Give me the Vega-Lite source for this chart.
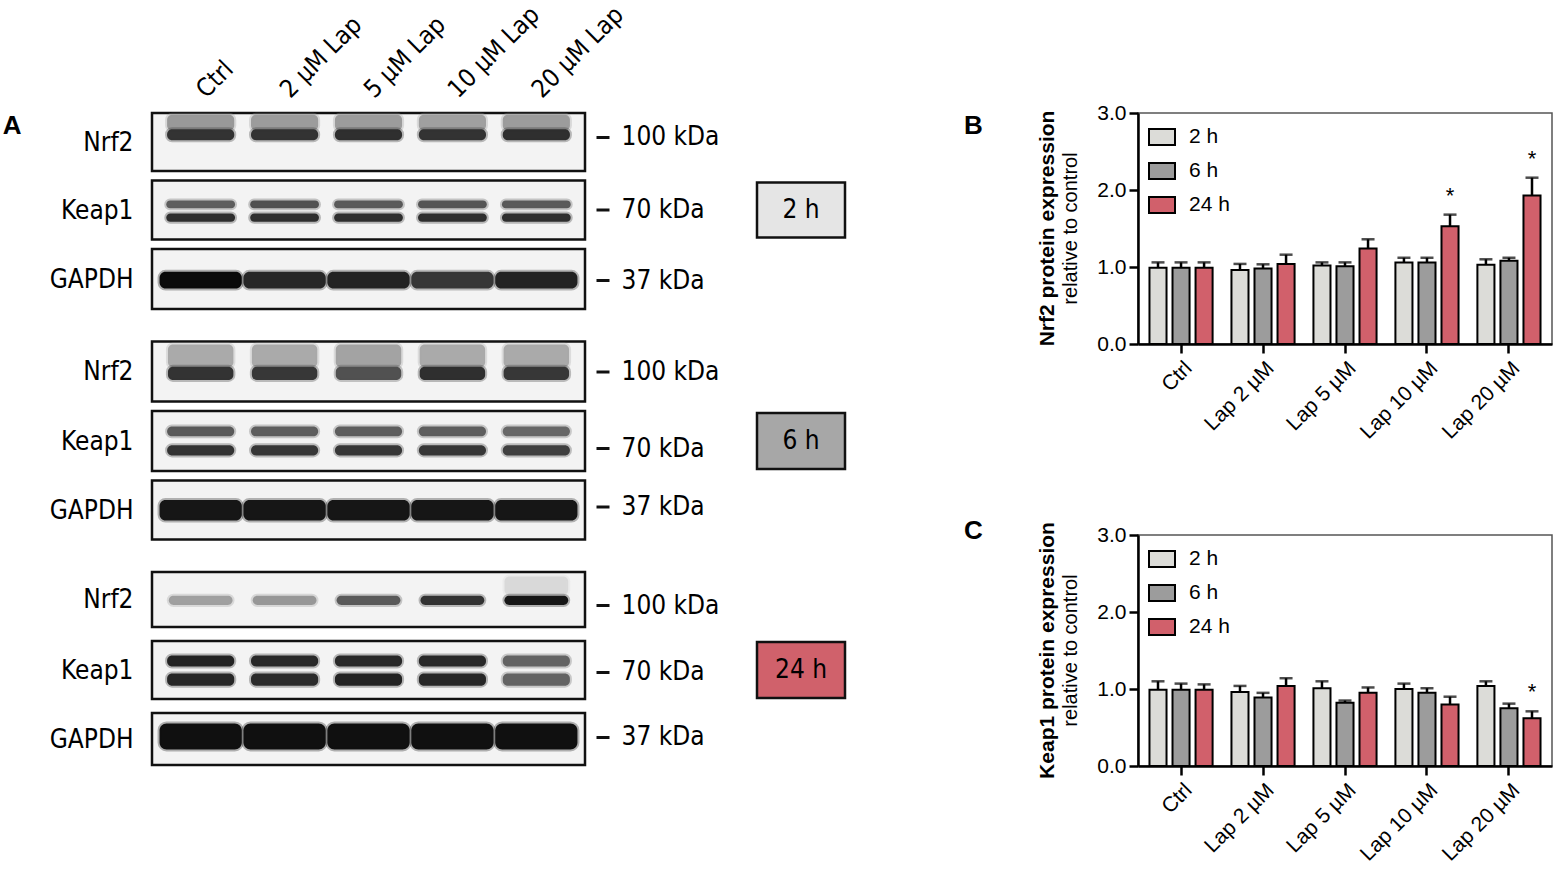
{
  "$schema": "https://vega.github.io/schema/vega-lite/v6.json",
  "description": "Nrf2 / Keap1 western blots after lapatinib and quantification",
  "background": "white",
  "autosize": {"type": "pad"},
  "padding": {"left": 2, "top": 0, "right": 0, "bottom": 0},
  "datasets": {
    "blots": [
      {"t":"2 h","p":"Nrf2","lane":"Ctrl","y0":0.03,"y1":0.3,"d":0.35},
      {"t":"2 h","p":"Nrf2","lane":"2 µM Lap","y0":0.03,"y1":0.3,"d":0.34},
      {"t":"2 h","p":"Nrf2","lane":"5 µM Lap","y0":0.03,"y1":0.3,"d":0.34},
      {"t":"2 h","p":"Nrf2","lane":"10 µM Lap","y0":0.03,"y1":0.3,"d":0.32},
      {"t":"2 h","p":"Nrf2","lane":"20 µM Lap","y0":0.03,"y1":0.3,"d":0.34},
      {"t":"2 h","p":"Nrf2","lane":"Ctrl","y0":0.28,"y1":0.47,"d":0.8},
      {"t":"2 h","p":"Nrf2","lane":"2 µM Lap","y0":0.28,"y1":0.47,"d":0.8},
      {"t":"2 h","p":"Nrf2","lane":"5 µM Lap","y0":0.28,"y1":0.47,"d":0.82},
      {"t":"2 h","p":"Nrf2","lane":"10 µM Lap","y0":0.28,"y1":0.47,"d":0.8},
      {"t":"2 h","p":"Nrf2","lane":"20 µM Lap","y0":0.28,"y1":0.47,"d":0.82},
      {"t":"2 h","p":"Keap1","lane":"Ctrl","y0":0.34,"y1":0.47,"d":0.6},
      {"t":"2 h","p":"Keap1","lane":"2 µM Lap","y0":0.34,"y1":0.47,"d":0.66},
      {"t":"2 h","p":"Keap1","lane":"5 µM Lap","y0":0.34,"y1":0.47,"d":0.62},
      {"t":"2 h","p":"Keap1","lane":"10 µM Lap","y0":0.34,"y1":0.47,"d":0.64},
      {"t":"2 h","p":"Keap1","lane":"20 µM Lap","y0":0.34,"y1":0.47,"d":0.62},
      {"t":"2 h","p":"Keap1","lane":"Ctrl","y0":0.56,"y1":0.7,"d":0.82},
      {"t":"2 h","p":"Keap1","lane":"2 µM Lap","y0":0.56,"y1":0.7,"d":0.82},
      {"t":"2 h","p":"Keap1","lane":"5 µM Lap","y0":0.56,"y1":0.7,"d":0.82},
      {"t":"2 h","p":"Keap1","lane":"10 µM Lap","y0":0.56,"y1":0.7,"d":0.82},
      {"t":"2 h","p":"Keap1","lane":"20 µM Lap","y0":0.56,"y1":0.7,"d":0.82},
      {"t":"2 h","p":"GAPDH","lane":"Ctrl","y0":0.38,"y1":0.66,"d":1.0},
      {"t":"2 h","p":"GAPDH","lane":"2 µM Lap","y0":0.38,"y1":0.66,"d":0.86},
      {"t":"2 h","p":"GAPDH","lane":"5 µM Lap","y0":0.38,"y1":0.66,"d":0.88},
      {"t":"2 h","p":"GAPDH","lane":"10 µM Lap","y0":0.38,"y1":0.66,"d":0.78},
      {"t":"2 h","p":"GAPDH","lane":"20 µM Lap","y0":0.38,"y1":0.66,"d":0.88},
      {"t":"6 h","p":"Nrf2","lane":"Ctrl","y0":0.05,"y1":0.43,"d":0.28},
      {"t":"6 h","p":"Nrf2","lane":"2 µM Lap","y0":0.05,"y1":0.43,"d":0.28},
      {"t":"6 h","p":"Nrf2","lane":"5 µM Lap","y0":0.05,"y1":0.43,"d":0.31},
      {"t":"6 h","p":"Nrf2","lane":"10 µM Lap","y0":0.05,"y1":0.43,"d":0.28},
      {"t":"6 h","p":"Nrf2","lane":"20 µM Lap","y0":0.05,"y1":0.43,"d":0.28},
      {"t":"6 h","p":"Nrf2","lane":"Ctrl","y0":0.42,"y1":0.64,"d":0.8},
      {"t":"6 h","p":"Nrf2","lane":"2 µM Lap","y0":0.42,"y1":0.64,"d":0.78},
      {"t":"6 h","p":"Nrf2","lane":"5 µM Lap","y0":0.42,"y1":0.64,"d":0.66},
      {"t":"6 h","p":"Nrf2","lane":"10 µM Lap","y0":0.42,"y1":0.64,"d":0.82},
      {"t":"6 h","p":"Nrf2","lane":"20 µM Lap","y0":0.42,"y1":0.64,"d":0.78},
      {"t":"6 h","p":"Keap1","lane":"Ctrl","y0":0.26,"y1":0.42,"d":0.62},
      {"t":"6 h","p":"Keap1","lane":"2 µM Lap","y0":0.26,"y1":0.42,"d":0.6},
      {"t":"6 h","p":"Keap1","lane":"5 µM Lap","y0":0.26,"y1":0.42,"d":0.6},
      {"t":"6 h","p":"Keap1","lane":"10 µM Lap","y0":0.26,"y1":0.42,"d":0.6},
      {"t":"6 h","p":"Keap1","lane":"20 µM Lap","y0":0.26,"y1":0.42,"d":0.56},
      {"t":"6 h","p":"Keap1","lane":"Ctrl","y0":0.57,"y1":0.74,"d":0.8},
      {"t":"6 h","p":"Keap1","lane":"2 µM Lap","y0":0.57,"y1":0.74,"d":0.78},
      {"t":"6 h","p":"Keap1","lane":"5 µM Lap","y0":0.57,"y1":0.74,"d":0.78},
      {"t":"6 h","p":"Keap1","lane":"10 µM Lap","y0":0.57,"y1":0.74,"d":0.78},
      {"t":"6 h","p":"Keap1","lane":"20 µM Lap","y0":0.57,"y1":0.74,"d":0.74},
      {"t":"6 h","p":"GAPDH","lane":"Ctrl","y0":0.33,"y1":0.68,"d":0.95},
      {"t":"6 h","p":"GAPDH","lane":"2 µM Lap","y0":0.33,"y1":0.68,"d":0.95},
      {"t":"6 h","p":"GAPDH","lane":"5 µM Lap","y0":0.33,"y1":0.68,"d":0.95},
      {"t":"6 h","p":"GAPDH","lane":"10 µM Lap","y0":0.33,"y1":0.68,"d":0.95},
      {"t":"6 h","p":"GAPDH","lane":"20 µM Lap","y0":0.33,"y1":0.68,"d":0.95},
      {"t":"24 h","p":"Nrf2","lane":"20 µM Lap","y0":0.08,"y1":0.42,"d":0.1},
      {"t":"24 h","p":"Nrf2","lane":"Ctrl","y0":0.43,"y1":0.6,"d":0.32},
      {"t":"24 h","p":"Nrf2","lane":"2 µM Lap","y0":0.43,"y1":0.6,"d":0.36},
      {"t":"24 h","p":"Nrf2","lane":"5 µM Lap","y0":0.43,"y1":0.6,"d":0.62},
      {"t":"24 h","p":"Nrf2","lane":"10 µM Lap","y0":0.43,"y1":0.6,"d":0.8},
      {"t":"24 h","p":"Nrf2","lane":"20 µM Lap","y0":0.43,"y1":0.6,"d":0.95},
      {"t":"24 h","p":"Keap1","lane":"Ctrl","y0":0.25,"y1":0.44,"d":0.88},
      {"t":"24 h","p":"Keap1","lane":"2 µM Lap","y0":0.25,"y1":0.44,"d":0.85},
      {"t":"24 h","p":"Keap1","lane":"5 µM Lap","y0":0.25,"y1":0.44,"d":0.85},
      {"t":"24 h","p":"Keap1","lane":"10 µM Lap","y0":0.25,"y1":0.44,"d":0.85},
      {"t":"24 h","p":"Keap1","lane":"20 µM Lap","y0":0.25,"y1":0.44,"d":0.58},
      {"t":"24 h","p":"Keap1","lane":"Ctrl","y0":0.56,"y1":0.77,"d":0.86},
      {"t":"24 h","p":"Keap1","lane":"2 µM Lap","y0":0.56,"y1":0.77,"d":0.84},
      {"t":"24 h","p":"Keap1","lane":"5 µM Lap","y0":0.56,"y1":0.77,"d":0.88},
      {"t":"24 h","p":"Keap1","lane":"10 µM Lap","y0":0.56,"y1":0.77,"d":0.86},
      {"t":"24 h","p":"Keap1","lane":"20 µM Lap","y0":0.56,"y1":0.77,"d":0.58},
      {"t":"24 h","p":"GAPDH","lane":"Ctrl","y0":0.2,"y1":0.7,"d":0.98},
      {"t":"24 h","p":"GAPDH","lane":"2 µM Lap","y0":0.2,"y1":0.7,"d":0.98},
      {"t":"24 h","p":"GAPDH","lane":"5 µM Lap","y0":0.2,"y1":0.7,"d":0.98},
      {"t":"24 h","p":"GAPDH","lane":"10 µM Lap","y0":0.2,"y1":0.7,"d":0.98},
      {"t":"24 h","p":"GAPDH","lane":"20 µM Lap","y0":0.2,"y1":0.7,"d":0.98}
    ],
    "nrf2": [
      {"cat":"Ctrl","time":"2 h","mean":0.99,"upper":1.06,"sig":""},
      {"cat":"Ctrl","time":"6 h","mean":0.99,"upper":1.06,"sig":""},
      {"cat":"Ctrl","time":"24 h","mean":0.99,"upper":1.06,"sig":""},
      {"cat":"Lap 2 µM","time":"2 h","mean":0.96,"upper":1.04,"sig":""},
      {"cat":"Lap 2 µM","time":"6 h","mean":0.98,"upper":1.035,"sig":""},
      {"cat":"Lap 2 µM","time":"24 h","mean":1.04,"upper":1.16,"sig":""},
      {"cat":"Lap 5 µM","time":"2 h","mean":1.02,"upper":1.06,"sig":""},
      {"cat":"Lap 5 µM","time":"6 h","mean":1.01,"upper":1.06,"sig":""},
      {"cat":"Lap 5 µM","time":"24 h","mean":1.24,"upper":1.36,"sig":""},
      {"cat":"Lap 10 µM","time":"2 h","mean":1.06,"upper":1.12,"sig":""},
      {"cat":"Lap 10 µM","time":"6 h","mean":1.06,"upper":1.12,"sig":""},
      {"cat":"Lap 10 µM","time":"24 h","mean":1.53,"upper":1.68,"sig":"*"},
      {"cat":"Lap 20 µM","time":"2 h","mean":1.03,"upper":1.1,"sig":""},
      {"cat":"Lap 20 µM","time":"6 h","mean":1.08,"upper":1.12,"sig":""},
      {"cat":"Lap 20 µM","time":"24 h","mean":1.93,"upper":2.16,"sig":"*"}
    ],
    "keap1": [
      {"cat":"Ctrl","time":"2 h","mean":0.99,"upper":1.1,"sig":""},
      {"cat":"Ctrl","time":"6 h","mean":0.99,"upper":1.07,"sig":""},
      {"cat":"Ctrl","time":"24 h","mean":0.99,"upper":1.06,"sig":""},
      {"cat":"Lap 2 µM","time":"2 h","mean":0.96,"upper":1.04,"sig":""},
      {"cat":"Lap 2 µM","time":"6 h","mean":0.89,"upper":0.95,"sig":""},
      {"cat":"Lap 2 µM","time":"24 h","mean":1.04,"upper":1.14,"sig":""},
      {"cat":"Lap 5 µM","time":"2 h","mean":1.01,"upper":1.1,"sig":""},
      {"cat":"Lap 5 µM","time":"6 h","mean":0.82,"upper":0.85,"sig":""},
      {"cat":"Lap 5 µM","time":"24 h","mean":0.95,"upper":1.02,"sig":""},
      {"cat":"Lap 10 µM","time":"2 h","mean":1.0,"upper":1.07,"sig":""},
      {"cat":"Lap 10 µM","time":"6 h","mean":0.95,"upper":1.01,"sig":""},
      {"cat":"Lap 10 µM","time":"24 h","mean":0.8,"upper":0.9,"sig":""},
      {"cat":"Lap 20 µM","time":"2 h","mean":1.04,"upper":1.1,"sig":""},
      {"cat":"Lap 20 µM","time":"6 h","mean":0.75,"upper":0.81,"sig":""},
      {"cat":"Lap 20 µM","time":"24 h","mean":0.62,"upper":0.71,"sig":"*"}
    ]
  },
  "resolve": {"scale": {"fill": "independent", "stroke": "independent"}},
  "hconcat": [
    {
      "vconcat": [
        {
          "title": {"text": "A", "orient": "left", "angle": 0, "anchor": "end", "frame": "group", "align": "center", "baseline": "top", "font": "Liberation Sans", "fontSize": 26, "fontWeight": "bold", "offset": 17, "dy": 0},
          "vconcat": [
            {
              "width": 433, "height": 58,
              "data": {"name": "blots"},
              "transform": [{"filter": "datum.t == '2 h' && datum.p == 'Nrf2'"}],
              "mark": {"type": "bar", "width": {"band": 0.8}, "cornerRadius": 5, "strokeWidth": 4, "strokeOpacity": 0.3},
              "encoding": {
                "x": {"field": "lane", "type": "nominal", "scale": {"domain": ["Ctrl", "2 µM Lap", "5 µM Lap", "10 µM Lap", "20 µM Lap"], "paddingInner": 0, "paddingOuter": 0.08}, "axis": {"orient": "top", "title": "Nrf2", "titleY": 29}},
                "y": {"field": "y0", "type": "quantitative", "scale": {"domain": [0, 1], "reverse": true}, "axis": {"orient": "right", "title": null, "values": [0.41], "labelExpr": "'100 kDa'"}},
                "y2": {"field": "y1"},
                "fill": {"field": "d", "type": "quantitative", "scale": {"domain": [0, 1], "range": ["#f3f3f3", "#0a0a0a"]}, "legend": null},
                "stroke": {"field": "d", "type": "quantitative", "scale": {"domain": [0, 1], "range": ["#f3f3f3", "#0a0a0a"]}, "legend": null}
              },
              "view": {"fill": "#f3f3f3", "stroke": "#111111", "strokeWidth": 2.5}
            },
            {
              "hconcat": [
                {
                  "width": 433, "height": 59,
                  "data": {"name": "blots"},
                  "transform": [{"filter": "datum.t == '2 h' && datum.p == 'Keap1'"}],
                  "mark": {"type": "bar", "width": {"band": 0.82}, "cornerRadius": 5, "strokeWidth": 4, "strokeOpacity": 0.3},
                  "encoding": {
                    "x": {"field": "lane", "type": "nominal", "scale": {"domain": ["Ctrl", "2 µM Lap", "5 µM Lap", "10 µM Lap", "20 µM Lap"], "paddingInner": 0, "paddingOuter": 0.08}, "axis": {"orient": "top", "labels": false, "title": "Keap1", "titleY": 29.5}},
                    "y": {"field": "y0", "type": "quantitative", "scale": {"domain": [0, 1], "reverse": true}, "axis": {"orient": "right", "title": null, "values": [0.49], "labelExpr": "'70 kDa'"}},
                    "y2": {"field": "y1"},
                    "fill": {"field": "d", "type": "quantitative", "scale": {"domain": [0, 1], "range": ["#f3f3f3", "#0a0a0a"]}, "legend": null},
                    "stroke": {"field": "d", "type": "quantitative", "scale": {"domain": [0, 1], "range": ["#f3f3f3", "#0a0a0a"]}, "legend": null}
                  },
                  "view": {"fill": "#f3f3f3", "stroke": "#111111", "strokeWidth": 2.5}
                },
                {
                  "width": 88, "height": 55,
                  "data": {"values": [{"label": "2 h"}]},
                  "mark": {"type": "text", "font": "DejaVu Sans Condensed, Liberation Sans", "fontSize": 26, "color": "black"},
                  "encoding": {"text": {"field": "label"}},
                  "view": {"fill": "#e5e5e5", "stroke": "#111111", "strokeWidth": 2.5}
                }
              ],
              "spacing": 172, "center": true, "bounds": "flush"
            },
            {
              "width": 433, "height": 60,
              "data": {"name": "blots"},
              "transform": [{"filter": "datum.t == '2 h' && datum.p == 'GAPDH'"}],
              "mark": {"type": "bar", "width": {"band": 0.98}, "cornerRadius": 6, "strokeWidth": 4, "strokeOpacity": 0.3},
              "encoding": {
                "x": {"field": "lane", "type": "nominal", "scale": {"domain": ["Ctrl", "2 µM Lap", "5 µM Lap", "10 µM Lap", "20 µM Lap"], "paddingInner": 0, "paddingOuter": 0.08}, "axis": {"orient": "top", "labels": false, "title": "GAPDH", "titleY": 30}},
                "y": {"field": "y0", "type": "quantitative", "scale": {"domain": [0, 1], "reverse": true}, "axis": {"orient": "right", "title": null, "values": [0.52], "labelExpr": "'37 kDa'"}},
                "y2": {"field": "y1"},
                "fill": {"field": "d", "type": "quantitative", "scale": {"domain": [0, 1], "range": ["#f3f3f3", "#0a0a0a"]}, "legend": null},
                "stroke": {"field": "d", "type": "quantitative", "scale": {"domain": [0, 1], "range": ["#f3f3f3", "#0a0a0a"]}, "legend": null}
              },
              "view": {"fill": "#f3f3f3", "stroke": "#111111", "strokeWidth": 2.5}
            }
          ],
          "spacing": 5.5
        },
        {
          "vconcat": [
            {
              "width": 433, "height": 60,
              "data": {"name": "blots"},
              "transform": [{"filter": "datum.t == '6 h' && datum.p == 'Nrf2'"}],
              "mark": {"type": "bar", "width": {"band": 0.78}, "cornerRadius": 5, "strokeWidth": 4, "strokeOpacity": 0.3},
              "encoding": {
                "x": {"field": "lane", "type": "nominal", "scale": {"domain": ["Ctrl", "2 µM Lap", "5 µM Lap", "10 µM Lap", "20 µM Lap"], "paddingInner": 0, "paddingOuter": 0.08}, "axis": {"orient": "top", "labels": false, "title": "Nrf2", "titleY": 30}},
                "y": {"field": "y0", "type": "quantitative", "scale": {"domain": [0, 1], "reverse": true}, "axis": {"orient": "right", "title": null, "values": [0.5], "labelExpr": "'100 kDa'"}},
                "y2": {"field": "y1"},
                "fill": {"field": "d", "type": "quantitative", "scale": {"domain": [0, 1], "range": ["#f3f3f3", "#0a0a0a"]}, "legend": null},
                "stroke": {"field": "d", "type": "quantitative", "scale": {"domain": [0, 1], "range": ["#f3f3f3", "#0a0a0a"]}, "legend": null}
              },
              "view": {"fill": "#f3f3f3", "stroke": "#111111", "strokeWidth": 2.5}
            },
            {
              "hconcat": [
                {
                  "width": 433, "height": 60,
                  "data": {"name": "blots"},
                  "transform": [{"filter": "datum.t == '6 h' && datum.p == 'Keap1'"}],
                  "mark": {"type": "bar", "width": {"band": 0.8}, "cornerRadius": 5, "strokeWidth": 4, "strokeOpacity": 0.3},
                  "encoding": {
                    "x": {"field": "lane", "type": "nominal", "scale": {"domain": ["Ctrl", "2 µM Lap", "5 µM Lap", "10 µM Lap", "20 µM Lap"], "paddingInner": 0, "paddingOuter": 0.08}, "axis": {"orient": "top", "labels": false, "title": "Keap1", "titleY": 30}},
                    "y": {"field": "y0", "type": "quantitative", "scale": {"domain": [0, 1], "reverse": true}, "axis": {"orient": "right", "title": null, "values": [0.62], "labelExpr": "'70 kDa'"}},
                    "y2": {"field": "y1"},
                    "fill": {"field": "d", "type": "quantitative", "scale": {"domain": [0, 1], "range": ["#f3f3f3", "#0a0a0a"]}, "legend": null},
                    "stroke": {"field": "d", "type": "quantitative", "scale": {"domain": [0, 1], "range": ["#f3f3f3", "#0a0a0a"]}, "legend": null}
                  },
                  "view": {"fill": "#f3f3f3", "stroke": "#111111", "strokeWidth": 2.5}
                },
                {
                  "width": 88, "height": 56,
                  "data": {"values": [{"label": "6 h"}]},
                  "mark": {"type": "text", "font": "DejaVu Sans Condensed, Liberation Sans", "fontSize": 26, "color": "black"},
                  "encoding": {"text": {"field": "label"}},
                  "view": {"fill": "#a7a7a7", "stroke": "#111111", "strokeWidth": 2.5}
                }
              ],
              "spacing": 172, "center": true, "bounds": "flush"
            },
            {
              "width": 433, "height": 59,
              "data": {"name": "blots"},
              "transform": [{"filter": "datum.t == '6 h' && datum.p == 'GAPDH'"}],
              "mark": {"type": "bar", "width": {"band": 0.98}, "cornerRadius": 6, "strokeWidth": 4, "strokeOpacity": 0.3},
              "encoding": {
                "x": {"field": "lane", "type": "nominal", "scale": {"domain": ["Ctrl", "2 µM Lap", "5 µM Lap", "10 µM Lap", "20 µM Lap"], "paddingInner": 0, "paddingOuter": 0.08}, "axis": {"orient": "top", "labels": false, "title": "GAPDH", "titleY": 29.5}},
                "y": {"field": "y0", "type": "quantitative", "scale": {"domain": [0, 1], "reverse": true}, "axis": {"orient": "right", "title": null, "values": [0.44], "labelExpr": "'37 kDa'"}},
                "y2": {"field": "y1"},
                "fill": {"field": "d", "type": "quantitative", "scale": {"domain": [0, 1], "range": ["#f3f3f3", "#0a0a0a"]}, "legend": null},
                "stroke": {"field": "d", "type": "quantitative", "scale": {"domain": [0, 1], "range": ["#f3f3f3", "#0a0a0a"]}, "legend": null}
              },
              "view": {"fill": "#f3f3f3", "stroke": "#111111", "strokeWidth": 2.5}
            }
          ],
          "spacing": 5.5
        },
        {
          "vconcat": [
            {
              "width": 433, "height": 55,
              "data": {"name": "blots"},
              "transform": [{"filter": "datum.t == '24 h' && datum.p == 'Nrf2'"}],
              "mark": {"type": "bar", "width": {"band": 0.76}, "cornerRadius": 5, "strokeWidth": 4, "strokeOpacity": 0.3},
              "encoding": {
                "x": {"field": "lane", "type": "nominal", "scale": {"domain": ["Ctrl", "2 µM Lap", "5 µM Lap", "10 µM Lap", "20 µM Lap"], "paddingInner": 0, "paddingOuter": 0.08}, "axis": {"orient": "top", "labels": false, "title": "Nrf2", "titleY": 27.5}},
                "y": {"field": "y0", "type": "quantitative", "scale": {"domain": [0, 1], "reverse": true}, "axis": {"orient": "right", "title": null, "values": [0.6], "labelExpr": "'100 kDa'"}},
                "y2": {"field": "y1"},
                "fill": {"field": "d", "type": "quantitative", "scale": {"domain": [0, 1], "range": ["#f3f3f3", "#0a0a0a"]}, "legend": null},
                "stroke": {"field": "d", "type": "quantitative", "scale": {"domain": [0, 1], "range": ["#f3f3f3", "#0a0a0a"]}, "legend": null}
              },
              "view": {"fill": "#f3f3f3", "stroke": "#111111", "strokeWidth": 2.5}
            },
            {
              "hconcat": [
                {
                  "width": 433, "height": 58,
                  "data": {"name": "blots"},
                  "transform": [{"filter": "datum.t == '24 h' && datum.p == 'Keap1'"}],
                  "mark": {"type": "bar", "width": {"band": 0.8}, "cornerRadius": 5, "strokeWidth": 4, "strokeOpacity": 0.3},
                  "encoding": {
                    "x": {"field": "lane", "type": "nominal", "scale": {"domain": ["Ctrl", "2 µM Lap", "5 µM Lap", "10 µM Lap", "20 µM Lap"], "paddingInner": 0, "paddingOuter": 0.08}, "axis": {"orient": "top", "labels": false, "title": "Keap1", "titleY": 29}},
                    "y": {"field": "y0", "type": "quantitative", "scale": {"domain": [0, 1], "reverse": true}, "axis": {"orient": "right", "title": null, "values": [0.53], "labelExpr": "'70 kDa'"}},
                    "y2": {"field": "y1"},
                    "fill": {"field": "d", "type": "quantitative", "scale": {"domain": [0, 1], "range": ["#f3f3f3", "#0a0a0a"]}, "legend": null},
                    "stroke": {"field": "d", "type": "quantitative", "scale": {"domain": [0, 1], "range": ["#f3f3f3", "#0a0a0a"]}, "legend": null}
                  },
                  "view": {"fill": "#f3f3f3", "stroke": "#111111", "strokeWidth": 2.5}
                },
                {
                  "width": 88, "height": 56,
                  "data": {"values": [{"label": "24 h"}]},
                  "mark": {"type": "text", "font": "DejaVu Sans Condensed, Liberation Sans", "fontSize": 26, "color": "black"},
                  "encoding": {"text": {"field": "label"}},
                  "view": {"fill": "#d0616b", "stroke": "#111111", "strokeWidth": 2.5}
                }
              ],
              "spacing": 172, "center": true, "bounds": "flush"
            },
            {
              "width": 433, "height": 52,
              "data": {"name": "blots"},
              "transform": [{"filter": "datum.t == '24 h' && datum.p == 'GAPDH'"}],
              "mark": {"type": "bar", "width": {"band": 0.98}, "cornerRadius": 7, "strokeWidth": 4, "strokeOpacity": 0.3},
              "encoding": {
                "x": {"field": "lane", "type": "nominal", "scale": {"domain": ["Ctrl", "2 µM Lap", "5 µM Lap", "10 µM Lap", "20 µM Lap"], "paddingInner": 0, "paddingOuter": 0.08}, "axis": {"orient": "top", "labels": false, "title": "GAPDH", "titleY": 26}},
                "y": {"field": "y0", "type": "quantitative", "scale": {"domain": [0, 1], "reverse": true}, "axis": {"orient": "right", "title": null, "values": [0.46], "labelExpr": "'37 kDa'"}},
                "y2": {"field": "y1"},
                "fill": {"field": "d", "type": "quantitative", "scale": {"domain": [0, 1], "range": ["#f3f3f3", "#0a0a0a"]}, "legend": null},
                "stroke": {"field": "d", "type": "quantitative", "scale": {"domain": [0, 1], "range": ["#f3f3f3", "#0a0a0a"]}, "legend": null}
              },
              "view": {"fill": "#f3f3f3", "stroke": "#111111", "strokeWidth": 2.5}
            }
          ],
          "spacing": 10
        }
      ],
      "spacing": 28.5
    },
    {
      "resolve": {"scale": {"fill": "independent", "stroke": "independent"}},
      "vconcat": [
        {
          "resolve": {"scale": {"fill": "independent"}},
          "title": {"text": "B", "orient": "left", "angle": 0, "anchor": "end", "frame": "group", "align": "center", "baseline": "top", "font": "Liberation Sans", "fontSize": 26, "fontWeight": "bold", "offset": 44, "dy": 0},
          "vconcat": [
            {
              "width": 414, "height": 231,
              "title": {"text": "Nrf2 protein expression", "subtitle": "relative to control", "orient": "left", "angle": -90, "anchor": "middle", "align": "center", "baseline": "top", "font": "Liberation Sans", "fontSize": 21, "fontWeight": "bold", "subtitleFont": "Liberation Sans", "subtitleFontSize": 20, "subtitleColor": "black", "subtitlePadding": 3, "offset": 16},
              "data": {"name": "nrf2"},
              "encoding": {
                "x": {"field": "cat", "type": "nominal", "scale": {"domain": ["Ctrl", "Lap 2 µM", "Lap 5 µM", "Lap 10 µM", "Lap 20 µM"], "paddingInner": 0.23, "paddingOuter": 0.14}, "axis": {"title": null}},
                "xOffset": {"field": "time", "type": "nominal", "scale": {"domain": ["2 h", "6 h", "24 h"], "paddingInner": 0.26, "paddingOuter": 0}}
              },
              "layer": [
                {
                  "mark": {"type": "bar", "stroke": "black", "strokeWidth": 2},
                  "encoding": {
                    "y": {"field": "mean", "type": "quantitative", "scale": {"domain": [0, 3], "nice": false}, "axis": {"title": null, "values": [0, 0.5, 1, 1.5, 2, 2.5, 3], "labelExpr": "datum.value % 1 == 0 ? format(datum.value, '.1f') : ''", "tickSize": {"condition": {"test": "datum.value % 1 != 0", "value": 5}, "value": 9}}},
                    "fill": {"field": "time", "type": "nominal", "scale": {"domain": ["2 h", "6 h", "24 h"], "range": ["#dcdcd8", "#9c9c9c", "#d1606b"]}, "legend": {"orient": "top-left", "title": null}}
                  }
                },
                {
                  "mark": {"type": "rule", "strokeWidth": 2.5, "color": "black"},
                  "encoding": {"y": {"field": "mean", "type": "quantitative", "axis": {"title": null}}, "y2": {"field": "upper"}}
                },
                {
                  "mark": {"type": "tick", "thickness": 2.5, "size": 13, "color": "black"},
                  "encoding": {"y": {"field": "upper", "type": "quantitative", "axis": {"title": null}}}
                },
                {
                  "transform": [{"filter": "datum.sig == '*'"}],
                  "mark": {"type": "text", "fontSize": 22, "dy": -12, "baseline": "alphabetic", "color": "black"},
                  "encoding": {"y": {"field": "upper", "type": "quantitative", "axis": {"title": null}}, "text": {"field": "sig"}}
                }
              ],
              "view": {"stroke": "#555555", "strokeWidth": 1.5}
            }
          ]
        },
        {
          "resolve": {"scale": {"fill": "independent"}},
          "title": {"text": "C", "orient": "left", "angle": 0, "anchor": "end", "frame": "group", "align": "center", "baseline": "top", "font": "Liberation Sans", "fontSize": 26, "fontWeight": "bold", "offset": 44, "dy": -17},
          "vconcat": [
            {
              "width": 414, "height": 231,
              "title": {"text": "Keap1 protein expression", "subtitle": "relative to control", "orient": "left", "angle": -90, "anchor": "middle", "align": "center", "baseline": "top", "font": "Liberation Sans", "fontSize": 21, "fontWeight": "bold", "subtitleFont": "Liberation Sans", "subtitleFontSize": 20, "subtitleColor": "black", "subtitlePadding": 3, "offset": 16},
              "data": {"name": "keap1"},
              "encoding": {
                "x": {"field": "cat", "type": "nominal", "scale": {"domain": ["Ctrl", "Lap 2 µM", "Lap 5 µM", "Lap 10 µM", "Lap 20 µM"], "paddingInner": 0.23, "paddingOuter": 0.14}, "axis": {"title": null}},
                "xOffset": {"field": "time", "type": "nominal", "scale": {"domain": ["2 h", "6 h", "24 h"], "paddingInner": 0.26, "paddingOuter": 0}}
              },
              "layer": [
                {
                  "mark": {"type": "bar", "stroke": "black", "strokeWidth": 2},
                  "encoding": {
                    "y": {"field": "mean", "type": "quantitative", "scale": {"domain": [0, 3], "nice": false}, "axis": {"title": null, "values": [0, 0.5, 1, 1.5, 2, 2.5, 3], "labelExpr": "datum.value % 1 == 0 ? format(datum.value, '.1f') : ''", "tickSize": {"condition": {"test": "datum.value % 1 != 0", "value": 5}, "value": 9}}},
                    "fill": {"field": "time", "type": "nominal", "scale": {"domain": ["2 h", "6 h", "24 h"], "range": ["#dcdcd8", "#9c9c9c", "#d1606b"]}, "legend": {"orient": "top-left", "title": null}}
                  }
                },
                {
                  "mark": {"type": "rule", "strokeWidth": 2.5, "color": "black"},
                  "encoding": {"y": {"field": "mean", "type": "quantitative", "axis": {"title": null}}, "y2": {"field": "upper"}}
                },
                {
                  "mark": {"type": "tick", "thickness": 2.5, "size": 13, "color": "black"},
                  "encoding": {"y": {"field": "upper", "type": "quantitative", "axis": {"title": null}}}
                },
                {
                  "transform": [{"filter": "datum.sig == '*'"}],
                  "mark": {"type": "text", "fontSize": 22, "dy": -12, "baseline": "alphabetic", "color": "black"},
                  "encoding": {"y": {"field": "upper", "type": "quantitative", "axis": {"title": null}}, "text": {"field": "sig"}}
                }
              ],
              "view": {"stroke": "#555555", "strokeWidth": 1.5}
            }
          ]
        }
      ],
      "spacing": 74
    }
  ],
  "spacing": 116,
  "config": {
    "font": "Liberation Sans",
    "view": {"stroke": null},
    "title": {"color": "black"},
    "axisTop": {"labelAngle": -45, "labelAlign": "left", "labelBaseline": "middle", "ticks": false, "domain": false, "grid": false, "labelPadding": 20, "labelFont": "DejaVu Sans Condensed, Liberation Sans", "labelFontSize": 25, "labelColor": "black", "labelOverlap": false, "labelLimit": 300, "titleX": -19, "titleAngle": 0, "titleAlign": "right", "titleBaseline": "middle", "titleFont": "DejaVu Sans Condensed, Liberation Sans", "titleFontSize": 26, "titleFontWeight": "normal", "titleColor": "black"},
    "axisRight": {"domain": false, "grid": false, "tickSize": 13, "tickWidth": 3, "tickColor": "#111111", "offset": 11, "labelPadding": 12, "labelFont": "DejaVu Sans Condensed, Liberation Sans", "labelFontSize": 26, "labelColor": "black", "labelLimit": 300},
    "axisLeft": {"domainWidth": 2.5, "domainColor": "black", "tickColor": "black", "tickWidth": 2.5, "grid": false, "labelFont": "Liberation Sans", "labelFontSize": 21, "labelColor": "black", "labelPadding": 3},
    "axisBottom": {"domainWidth": 2.5, "domainColor": "black", "tickColor": "black", "tickWidth": 2.5, "tickSize": 9, "grid": false, "labelFont": "Liberation Sans", "labelFontSize": 21, "labelColor": "black", "labelAngle": -45, "labelPadding": 4, "labelOverlap": false},
    "legend": {"orient": "top-left", "offset": 10, "padding": 0, "symbolType": "M-1,-0.62H1V0.62H-1Z", "symbolSize": 676, "symbolStrokeColor": "black", "symbolStrokeWidth": 2, "symbolOpacity": 1, "labelFont": "Liberation Sans", "labelFontSize": 21, "labelColor": "black", "labelOffset": 13, "rowPadding": 7}
  }
}
